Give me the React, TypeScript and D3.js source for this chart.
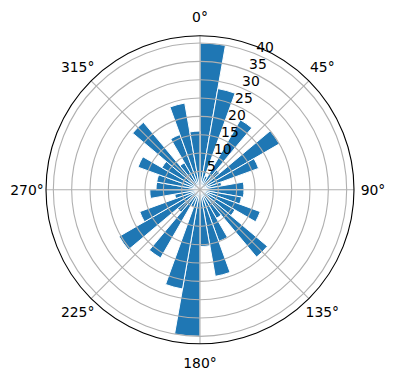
import React from "react";
import * as d3 from "d3";

const binStarts: number[] = [0, 10, 20, 30, 40, 50, 60, 70, 80, 90, 100, 110, 120, 130, 140, 150, 160, 170, 180, 190, 200, 210, 220, 230, 240, 250, 260, 270, 280, 290, 300, 310, 320, 330, 340, 350];
const counts: number[] = [40, 28, 4, 22, 7, 25, 17, 6, 12, 12, 11.5, 17.5, 11, 24, 9, 15, 24, 15.5, 40, 27.5, 5, 21.5, 8, 25.5, 17.5, 7, 13.7, 12, 12, 18, 12, 24, 8.5, 16, 24, 16];
const binWidth = 10;
const rTicks: number[] = [5, 10, 15, 20, 25, 30, 35, 40];
const thetaTicks: number[] = [0, 45, 90, 135, 180, 225, 270, 315];
const rMax = 42;

const W = 396;
const H = 380;
const cx = 200;
const cy = 189.7;
const R = 154;
const font = "'DejaVu Sans', sans-serif";

export default function App() {
  const r = d3.scaleLinear().domain([0, rMax]).range([0, R]);
  const rad = (deg: number) => (deg * Math.PI) / 180;
  const arc = d3.arc<any>();

  return (
    <svg width={W} height={H} style={{ position: "absolute", left: 0, top: 0, background: "#fff" }}>
      <g transform={`translate(${cx},${cy})`}>
        <circle r={R} fill="#fff" />
        {binStarts.map((s, i) => (
          <path
            key={i}
            d={arc({ innerRadius: 0, outerRadius: r(counts[i]), startAngle: rad(s), endAngle: rad(s + binWidth) }) as string}
            fill="#1f77b4"
            stroke="#fff"
            strokeWidth={1}
          />
        ))}
        {rTicks.map((t) => (
          <circle key={t} r={r(t)} fill="none" stroke="#b0b0b0" strokeWidth={1.1} />
        ))}
        {thetaTicks.map((t) => (
          <line
            key={t}
            x1={0}
            y1={0}
            x2={R * Math.sin(rad(t))}
            y2={-R * Math.cos(rad(t))}
            stroke="#b0b0b0"
            strokeWidth={1.1}
          />
        ))}
        <circle r={R} fill="none" stroke="#000" strokeWidth={1.1} />
        {thetaTicks.map((t) => (
          <text
            key={t}
            x={173 * Math.sin(rad(t))}
            y={-173 * Math.cos(rad(t))}
            textAnchor="middle"
            dominantBaseline="central"
            fontFamily={font}
            fontSize={13.9}
            fill="#000"
          >
            {t}°
          </text>
        ))}
        {rTicks.map((t) => (
          <text
            key={t}
            x={r(t) * Math.sin(rad(22.5))}
            y={-r(t) * Math.cos(rad(22.5)) - 2}
            textAnchor="start"
            fontFamily={font}
            fontSize={13.9}
            fill="#000"
          >
            {t}
          </text>
        ))}
      </g>
    </svg>
  );
}
